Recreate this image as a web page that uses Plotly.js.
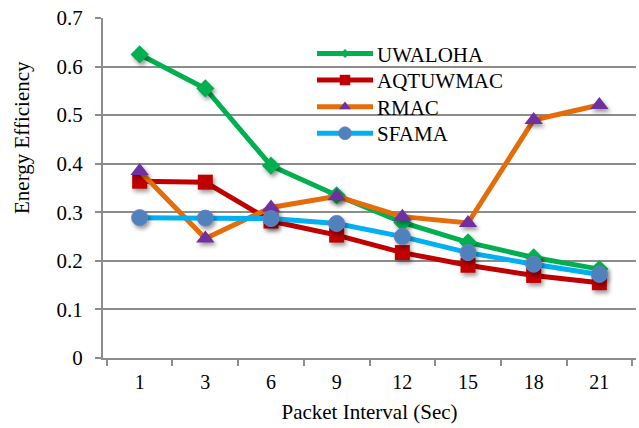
<!DOCTYPE html>
<html>
<head>
<meta charset="utf-8">
<script src="https://cdn.plot.ly/plotly-3.0.1.min.js"></script>
<style>
  html, body { margin: 0; padding: 0; background: #fff; }
  #chart { width: 639px; height: 428px; }
  /* soft drop shadow under the data markers */
  .scatterlayer .points path { filter: drop-shadow(2px 3px 2px rgba(0,0,0,0.4)); }
</style>
</head>
<body>
<div id="chart"></div>
<script>
// Packet interval categories (seconds)
const intervals = ['1', '3', '6', '9', '12', '15', '18', '21'];

// Energy efficiency per protocol
const uwaloha  = [0.625, 0.555, 0.396, 0.335, 0.279, 0.238, 0.207, 0.183];
const aqtuwmac = [0.364, 0.362, 0.282, 0.253, 0.217, 0.191, 0.170, 0.155];
const rmac     = [0.385, 0.246, 0.310, 0.333, 0.291, 0.278, 0.490, 0.521];
const sfama    = [0.289, 0.288, 0.287, 0.277, 0.250, 0.217, 0.193, 0.172];

const FONT = "'Liberation Serif', 'Times New Roman', serif";

const traces = [
  { name: 'UWALOHA', x: intervals, y: uwaloha, type: 'scatter', mode: 'lines+markers',
    line: { color: '#00B050', width: 5 },
    marker: { symbol: 'diamond', size: 14, color: '#00B050' } },
  { name: 'AQTUWMAC', x: intervals, y: aqtuwmac, type: 'scatter', mode: 'lines+markers',
    line: { color: '#C00000', width: 5 },
    marker: { symbol: 'square', size: 15, color: '#C00000' } },
  { name: 'RMAC', x: intervals, y: rmac, type: 'scatter', mode: 'lines+markers',
    line: { color: '#E46C0A', width: 5 },
    marker: { symbol: 'triangle-up', size: 16, color: '#7030A0' } },
  { name: 'SFAMA', x: intervals, y: sfama, type: 'scatter', mode: 'lines+markers',
    line: { color: '#00B0F0', width: 5 },
    marker: { symbol: 'circle', size: 16, color: '#4F81BD', line: { color: '#6f7fbf', width: 1 } } }
];

const layout = {
  width: 639, height: 428,
  margin: { l: 103, r: 3, t: 18, b: 70 },
  paper_bgcolor: '#fff', plot_bgcolor: '#fff',
  font: { family: FONT, size: 20, color: '#000' },
  showlegend: true,
  legend: {
    x: 0.4015, y: 0.955, xanchor: 'left', yanchor: 'top',
    bgcolor: 'rgba(0,0,0,0)', font: { family: FONT, size: 21, color: '#000' },
    tracegroupgap: 0
  },
  xaxis: {
    type: 'category',
    title: { text: 'Packet Interval (Sec)', font: { family: FONT, size: 21 }, standoff: 12 },
    showgrid: false, zeroline: false,
    showline: true, linecolor: '#8c8c8c', linewidth: 2,
    ticks: 'outside', tickson: 'boundaries', ticklen: 6, tickwidth: 2, tickcolor: '#8c8c8c',
    ticklabelstandoff: 5,
    tickfont: { family: FONT, size: 20 }
  },
  yaxis: {
    range: [0, 0.7], dtick: 0.1, tick0: 0,
    showgrid: true, gridcolor: '#8c8c8c', gridwidth: 2,
    zeroline: false,
    showline: true, linecolor: '#8c8c8c', linewidth: 2,
    ticks: 'outside', ticklen: 6, tickwidth: 2, tickcolor: '#8c8c8c',
    ticklabelstandoff: 8,
    tickfont: { family: FONT, size: 21 }
  },
  annotations: [{
    text: 'Energy Efficiency', textangle: -90,
    xref: 'paper', yref: 'paper', x: -0.152, y: 0.65,
    xanchor: 'center', yanchor: 'middle', showarrow: false,
    font: { family: FONT, size: 21, color: '#000' }
  }]
};

// Legend entries: longer line samples, small markers, tighter rows
const legendRowGap = 26.6;
const legendSymbolScale = [0.5, 0.7, 0.65, 0.8];

Plotly.newPlot('chart', traces, layout, { displayModeBar: false, staticPlot: true }).then(gd => {
  // let the widened entries show in full
  gd.querySelectorAll('.legend [clip-path]').forEach(el => el.removeAttribute('clip-path'));
  const items = gd.querySelectorAll('.legend .traces');
  let x0 = null, y0 = null;
  items.forEach((g, i) => {
    const m = /translate\(([-\d.]+)[ ,]+([-\d.]+)\)/.exec(g.getAttribute('transform') || '');
    if (m && x0 === null) { x0 = parseFloat(m[1]); y0 = parseFloat(m[2]); }
    g.setAttribute('transform', `translate(${x0},${y0 + i * legendRowGap})`);
    g.querySelectorAll('.legendlines path').forEach(p => p.setAttribute('d', 'M0,0h56'));
    g.querySelectorAll('.legendpoints path').forEach(p =>
      p.setAttribute('transform', `translate(28,0) scale(${legendSymbolScale[i]})`));
    g.querySelectorAll('text.legendtext').forEach(t => t.setAttribute('x', 60));
  });
});
</script>
</body>
</html>
